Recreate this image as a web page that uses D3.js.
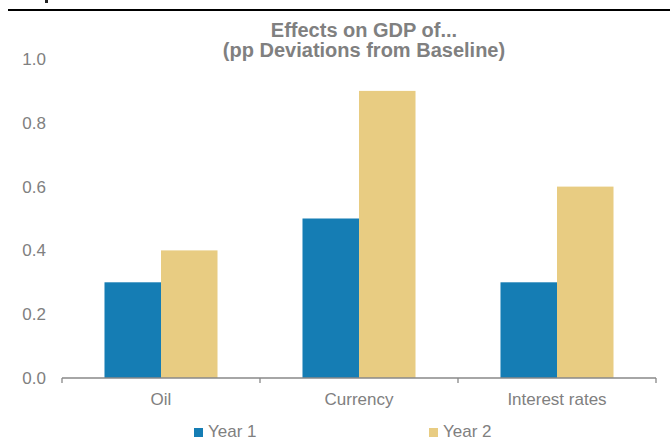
<!DOCTYPE html>
<html>
<head>
<meta charset="utf-8">
<script src="https://cdn.jsdelivr.net/npm/d3@7"></script>
<style>
  html, body { margin: 0; padding: 0; background: #fff; }
  svg { display: block; font-family: "Liberation Sans", Arial, sans-serif; }
</style>
</head>
<body>
<svg id="chart" width="670" height="441"></svg>
<script>
// Effects on GDP, percentage-point deviations from baseline
const categories = ["Oil", "Currency", "Interest rates"];
const seriesNames = ["Year 1", "Year 2"];
const year1 = [0.3, 0.5, 0.3];
const year2 = [0.4, 0.9, 0.6];
const yTicks = [0.0, 0.2, 0.4, 0.6, 0.8, 1.0];
const titleLines = ["Effects on GDP of...", "(pp Deviations from Baseline)"];

const colors = { "Year 1": "#157db4", "Year 2": "#e8cc82" };
const textGray = "#808080";

const svg = d3.select("#chart");
const margin = { left: 62, right: 14, top: 59, bottom: 63 };
const W = 670, H = 441;

const x = d3.scaleBand().domain(categories)
  .range([margin.left, W - margin.right]).paddingInner(0).paddingOuter(0);
const inner = d3.scaleBand().domain(seriesNames)
  .range([0, x.bandwidth()]).paddingOuter(0.752).paddingInner(0);
const y = d3.scaleLinear().domain([0, 1]).range([H - margin.bottom, margin.top]);

// header rule
svg.append("line").attr("x1", 8).attr("x2", W).attr("y1", 10).attr("y2", 10)
  .attr("stroke", "#000").attr("stroke-width", 2);
svg.append("rect").attr("x", 45).attr("y", 0).attr("width", 3).attr("height", 3).attr("fill", "#222");

// title
const title = svg.append("text").attr("text-anchor", "middle")
  .attr("font-weight", "bold").attr("font-size", 20).attr("fill", textGray);
titleLines.forEach((t, i) => {
  title.append("tspan").attr("x", 364).attr("y", 37 + i * 20).text(t);
});

// y tick labels (no axis line)
svg.append("g").selectAll("text").data(yTicks).join("text")
  .attr("x", 46).attr("y", d => y(d)).attr("dy", "0.35em")
  .attr("text-anchor", "end").attr("font-size", 17).attr("fill", textGray)
  .text(d => d.toFixed(1));

// bars
const rows = categories.map((c, i) => ({ cat: c, vals: [
  { s: "Year 1", v: year1[i] }, { s: "Year 2", v: year2[i] } ] }));
const groups = svg.append("g").selectAll("g").data(rows).join("g")
  .attr("transform", d => `translate(${x(d.cat)},0)`);
groups.selectAll("rect").data(d => d.vals).join("rect")
  .attr("x", d => inner(d.s)).attr("width", inner.bandwidth())
  .attr("y", d => y(d.v)).attr("height", d => y(0) - y(d.v))
  .attr("fill", d => colors[d.s]);

// x axis with ticks on category boundaries
const xAxis = svg.append("g").attr("transform", `translate(0,${y(0)})`);
xAxis.append("line").attr("x1", margin.left).attr("x2", W - margin.right)
  .attr("stroke", "#888").attr("stroke-width", 1.3);
const bounds = categories.map(c => x(c)).concat([x(categories[categories.length - 1]) + x.bandwidth()]);
xAxis.selectAll("line.tick").data(bounds).join("line").attr("class", "tick")
  .attr("x1", d => d).attr("x2", d => d).attr("y1", 0).attr("y2", 5)
  .attr("stroke", "#888").attr("stroke-width", 1.3);
xAxis.selectAll("text").data(categories).join("text")
  .attr("x", d => x(d) + x.bandwidth() / 2).attr("y", 27)
  .attr("text-anchor", "middle").attr("font-size", 17).attr("fill", textGray)
  .text(d => d);

// legend
const legendX = { "Year 1": 194, "Year 2": 429 };
const legend = svg.append("g").selectAll("g").data(seriesNames).join("g")
  .attr("transform", d => `translate(${legendX[d]},428)`);
legend.append("rect").attr("width", 9).attr("height", 9).attr("fill", d => colors[d]);
legend.append("text").attr("x", 14).attr("y", 9)
  .attr("font-size", 17).attr("fill", textGray).text(d => d);
</script>
</body>
</html>
